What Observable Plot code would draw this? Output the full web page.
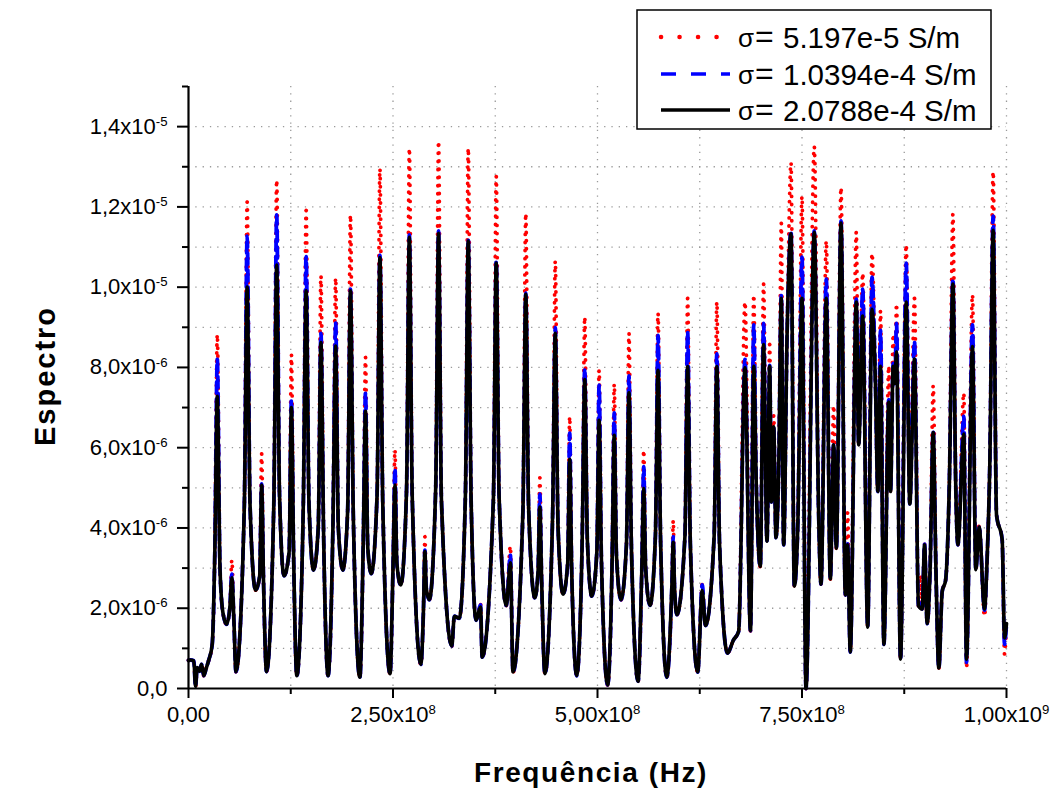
<!DOCTYPE html>
<html><head><meta charset="utf-8">
<script src="https://cdn.jsdelivr.net/npm/d3@7"></script>
<script src="https://cdn.jsdelivr.net/npm/@observablehq/plot@0.6"></script>
<style>
body{margin:0;background:#fff}
#chart{position:relative;width:1056px;height:792px}
</style>
</head><body><div id="chart"></div>
<script>
// ---- series labels / colours ----
const seriesNames = ["5.197e-5 S/m", "1.0394e-4 S/m", "2.0788e-4 S/m"];
const seriesColors = ["#ff0000", "#0000ff", "#000000"];

// ---- knots where the three curves coincide (frequency in MHz, spectrum in 1e-6) ----
const sharedMHz = [0,2.4,6.5,8.6,10.6,13.4,15.9,18.7,21.6,24.8,29,32,38.5,42,46.5,50.5,55.5,58,68.2,75.2,82,87,91.8,95.4,104.3,111.3,116.8,123,128.6,132.4,140.3,147.3,152.9,158.6,165.2,170.6,176.6,183.2,188.6,194.5,201.5,209.5,213.6,219.2,223.4,230.5,237.5,246.4,250,254.8,259.5,266.5,273.5,284,287.3,290.7,294.4,302.2,309.2,321.9,325,331,338.5,345.5,351.6,359,372.7,379.7,388.5,396.7,408.8,415.8,423.4,427.3,431.7,435.7,445,451.8,457.9,463.5,468.5,474.6,481.2,487.6,493,499.2,504.8,512.4,517.8,523.2,528.7,535.4,541.6,549.6,554.1,558.9,564.2,570.8,577.2,584.7,591,594.2,597,606.9,613.5,622.5,632,642.6,649.2,659,666,672.5,687,694.2,699,707.2,712.6,718.2,721.5,727.6,731.7,740.6,744.7,754.9,770.5,773.2,784.6,792,803,809,819.3,830.3,839.9,842.7,850.1,858.2,863.5,870.4,881.8,892.4,897,903,906.5,913.8,917.3,921.4,925.5,930,938,940.6,962.5,976.3,979.5,987.8,994.7,1000];
const sharedVal = [0.70,0.71,0.69,0.05,0.52,0.43,0.60,0.32,0.50,0.71,1.10,3.2,3.0,1.9,1.6,2.0,1.7,0.42,4.5,4.6,2.45,2.8,2.6,0.42,4.6,4.8,2.81,3.4,3.2,0.32,4.5,4.6,2.95,4.0,3.8,0.32,4.1,4.0,2.95,4.4,4.3,0.28,3.6,3.5,2.86,4.8,4.6,0.37,3.0,3.1,2.58,4.9,4.8,0.6,2.0,2.5,2.21,5.0,4.7,1.06,1.8,1.75,4.8,4.7,1.7,0.78,4.7,4.8,2.07,0.41,4.4,4.5,2.26,2.9,2.7,0.37,4.2,4.0,2.35,3.1,2.9,0.32,3.6,3.7,2.3,3.4,3.2,0.09,3.1,3.3,2.21,3.6,3.4,0.18,2.9,3.0,2.07,3.8,3.6,0.28,2.6,2.5,1.84,3.8,3.6,0.41,1.57,3.8,3.6,0.88,1.2,1.42,1.44,5.0,3.04,3.67,4.65,3.76,5.45,3.58,8.75,2.55,3.94,0.0,4.2,2.6,2.73,3.49,2.33,0.91,6.07,1.53,7.5,4.91,1.1,4.91,7.6,0.73,4.6,2.06,1.98,1.62,2.9,2.9,0.51,2.42,2.69,5.0,5.0,3.58,2.96,3.22,5.5,4.33,3.71,1.62];

// ---- knots where the curves differ (peaks), MHz and 1e-6 ----
const splitMHz  = [35.2,53,71.7,89.4,107.8,125.8,143.8,161.9,179.9,198,216.4,234,252.4,270,289,305.7,342,357,376.2,393.5,412.3,429.5,448.4,466,484.4,502,520.5,538.5,556.5,574,592.6,610.2,628,645.9,680.3,691,703,710.5,715.4,724.7,736.6,750,765,779.7,788.7,797.7,805.8,816.4,824.2,835.6,846,856.1,861.5,865.5,877.4,887.5,894.9,899.8,910.4,934.5,947.8,951.1,958.4,966.6,973.1,983.7,997.6];
const splitRed  = [8.82,3.20,12.12,5.85,12.67,8.32,11.91,10.28,10.23,11.80,8.25,12.95,5.94,13.46,3.78,13.64,13.46,2.12,12.76,3.55,11.84,5.25,10.65,6.77,9.26,7.93,7.59,8.85,5.94,9.35,4.19,9.72,2.60,9.63,9.63,9.81,10.08,8.57,6.80,11.59,13.10,12.26,13.50,11.15,7.05,12.48,4.38,11.37,10.35,10.84,9.41,8.03,8.83,9.59,11.06,9.72,2.82,3.60,7.54,11.82,7.36,0.51,9.81,4.07,1.80,12.88,0.86];
const splitBlue = [8.20,2.85,11.27,5.10,11.80,7.19,10.76,8.85,9.12,9.95,7.37,10.80,5.48,11.30,3.45,11.40,11.20,2.08,10.65,3.32,9.85,4.84,8.99,6.36,7.97,7.56,6.87,7.79,5.53,8.80,3.78,8.89,2.58,8.34,8.20,9.06,9.10,8.05,6.55,9.80,11.40,10.75,11.40,10.20,6.10,11.65,3.60,9.70,9.95,10.25,8.92,7.20,8.10,9.10,10.60,8.65,2.15,3.60,6.40,10.21,6.78,0.65,9.06,4.02,1.95,11.77,1.10];
const splitBlack= [7.28,2.76,10.00,5.07,10.55,7.00,9.91,8.62,8.53,9.91,6.91,10.74,5.07,11.24,3.41,11.34,11.15,2.03,10.60,3.13,9.82,4.52,8.85,5.71,7.70,6.68,6.31,7.37,4.98,7.93,3.64,8.02,2.44,8.02,7.99,8.03,8.57,8.03,6.52,9.72,11.33,9.72,11.37,9.72,6.07,11.60,3.58,9.63,9.28,9.45,8.03,7.14,8.03,8.39,9.63,8.21,2.00,3.58,6.38,10.08,6.34,0.73,8.52,4.02,1.98,11.42,1.26];

// ---- ticks ----
const xTicks = [0, 2.5e8, 5e8, 7.5e8, 1e9];
const xTickLabels = ["0,00", "2,50x10^8", "5,00x10^8", "7,50x10^8", "1,00x10^9"];
const xMinorTicks = [1.25e8, 3.75e8, 6.25e8, 8.75e8];
const yTicks = [0, 2e-6, 4e-6, 6e-6, 8e-6, 1e-5, 1.2e-5, 1.4e-5];
const yTickLabels = ["0,0", "2,0x10^-6", "4,0x10^-6", "6,0x10^-6", "8,0x10^-6", "1,0x10^-5", "1,2x10^-5", "1,4x10^-5"];
const yMinorTicks = [1e-6, 3e-6, 5e-6, 7e-6, 9e-6, 1.1e-5, 1.3e-5, 1.5e-5];
const xGrid = [1.25e8, 2.5e8, 3.75e8, 5e8, 6.25e8, 7.5e8, 8.75e8, 1e9];
const yGrid = [1e-6,2e-6,3e-6,4e-6,5e-6,6e-6,7e-6,8e-6,9e-6,1e-5,1.1e-5,1.2e-5,1.3e-5,1.4e-5];

function buildSeries(values) {
  const pts = sharedMHz.map((m, i) => ({f: m * 1e6, v: sharedVal[i] * 1e-6}));
  splitMHz.forEach((m, i) => pts.push({f: m * 1e6, v: values[i] * 1e-6}));
  return pts.sort((a, b) => a.f - b.f);
}
const redData = buildSeries(splitRed);
const blueData = buildSeries(splitBlue);
const blackData = buildSeries(splitBlack);

const FONT = "'Liberation Sans', Arial, sans-serif";
const gridStyle = {stroke: "#9a9a9a", strokeWidth: 1.3, strokeDasharray: "1.3 6", strokeOpacity: 1};

const plot = Plot.plot({
  width: 1056, height: 792,
  marginLeft: 188, marginRight: 50, marginTop: 86, marginBottom: 104,
  x: {domain: [0, 1e9]},
  y: {domain: [0, 1.5e-5]},
  style: {fontFamily: FONT, background: "white", color: "#000"},
  marks: [
    Plot.ruleX(xGrid, {...gridStyle}),
    Plot.ruleY(yGrid, {...gridStyle}),
    Plot.line(redData, {x: "f", y: "v", stroke: seriesColors[0], strokeWidth: 3.8, strokeDasharray: "0.1 8", strokeLinecap: "round", curve: "monotone-x"}),
    Plot.line(blueData, {x: "f", y: "v", stroke: seriesColors[1], strokeWidth: 3.8, strokeDasharray: "11 6", curve: "monotone-x"}),
    Plot.line(blackData, {x: "f", y: "v", stroke: seriesColors[2], strokeWidth: 3.6, strokeLinejoin: "round", curve: "monotone-x"}),
    Plot.axisX({ticks: xTicks, tickFormat: d => xTickLabels[xTicks.indexOf(d)], tickSize: 10, tickPadding: 8, fontSize: 22, strokeWidth: 2, label: null}),
    Plot.axisX({ticks: xMinorTicks, tickFormat: () => "", tickSize: 6, strokeWidth: 2, label: null}),
    Plot.axisY({ticks: yTicks, tickFormat: d => yTickLabels[yTicks.indexOf(d)], tickSize: 11, tickPadding: 10, fontSize: 22, strokeWidth: 2, label: null}),
    Plot.axisY({ticks: yMinorTicks, tickFormat: () => "", tickSize: 6, strokeWidth: 2, label: null}),
    Plot.ruleX([0], {stroke: "#000", strokeWidth: 2.2}),
    Plot.ruleY([0], {stroke: "#000", strokeWidth: 2.2})
  ]
});
document.getElementById("chart").appendChild(plot);

const svg = d3.select(plot);
// superscripts in tick labels
svg.selectAll("text").each(function() {
  const t = this.textContent;
  if (t.includes("^")) {
    const [base, exp] = t.split("^");
    const el = d3.select(this);
    el.text(null);
    el.append("tspan").text(base);
    el.append("tspan").attr("dy", "-0.6em").attr("font-size", "0.6em").text(exp);
  }
});

// axis titles
svg.append("text")
  .attr("x", 591).attr("y", 782)
  .attr("text-anchor", "middle")
  .attr("font-family", FONT).attr("font-weight", "bold").attr("font-size", 28)
  .attr("letter-spacing", "1.6px")
  .text("Frequência (Hz)");
svg.append("text")
  .attr("transform", "translate(55,376) rotate(-90)")
  .attr("text-anchor", "middle")
  .attr("font-family", FONT).attr("font-weight", "bold").attr("font-size", 29)
  .attr("letter-spacing", "2px")
  .text("Espectro");

// legend
const lg = svg.append("g").attr("text-anchor", "start");
lg.append("rect").attr("x", 637).attr("y", 10).attr("width", 354).attr("height", 119)
  .attr("fill", "white").attr("stroke", "#000").attr("stroke-width", 1.5);
const rowsY = [37, 74, 110];
const dashes = ["0.1 18.4", "15 15", null];
seriesNames.forEach((name, i) => {
  const ln = lg.append("line").attr("x1", 661).attr("x2", 730).attr("y1", rowsY[i]).attr("y2", rowsY[i])
    .attr("stroke", seriesColors[i]).attr("stroke-width", i === 0 ? 4.5 : 3.6);
  if (dashes[i]) ln.attr("stroke-dasharray", dashes[i]);
  if (i === 0) ln.attr("stroke-linecap", "round");
  lg.append("text").attr("x", 738).attr("y", rowsY[i] + 10).attr("text-anchor", "start")
    .attr("font-family", FONT).attr("font-size", 26).text("σ");
  lg.append("text").attr("x", 755).attr("y", rowsY[i] + 10).attr("text-anchor", "start")
    .attr("font-family", FONT).attr("font-size", 32).text("=");
  lg.append("text").attr("x", 783).attr("y", rowsY[i] + 11).attr("text-anchor", "start")
    .attr("font-family", FONT).attr("font-size", 29.5).text(name);
});
</script>
</body></html>
